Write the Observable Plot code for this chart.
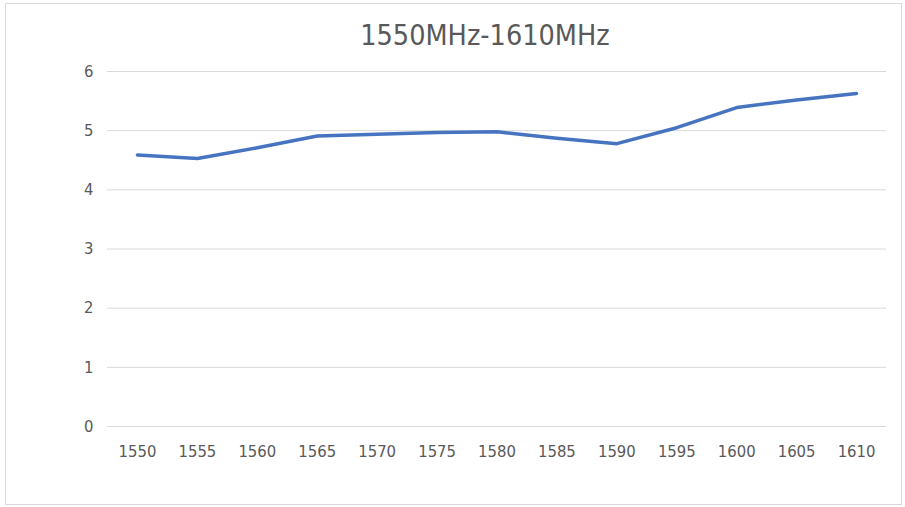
<!DOCTYPE html>
<html>
<head>
<meta charset="utf-8">
<script src="https://cdn.jsdelivr.net/npm/d3@7"></script>
<script src="https://cdn.jsdelivr.net/npm/@observablehq/plot@0.6"></script>
<style>
  html, body { margin: 0; padding: 0; background: #fff; }
  #frame { position: absolute; left: 5px; top: 3px; width: 897px; height: 502px; border: 1px solid #d9d9d9; box-sizing: border-box; }
  #wrap { position: absolute; left: 0; top: 0; width: 905px; }
  #title { height: 60px; line-height: 72px; text-align: center; padding-left: 65px; box-sizing: border-box;
           font-family: "DejaVu Sans Condensed", sans-serif; font-size: 28.5px; color: #595959; }
  svg { display: block; }
</style>
</head>
<body>
<div id="frame"></div>
<div id="wrap"><div id="title">1550MHz-1610MHz</div><div id="chart"></div></div>
<script>
const frequencies = ["1550","1555","1560","1565","1570","1575","1580","1585","1590","1595","1600","1605","1610"];
const values = [4.59, 4.53, 4.71, 4.91, 4.94, 4.97, 4.98, 4.87, 4.78, 5.05, 5.39, 5.52, 5.63];
const yTicks = [0, 1, 2, 3, 4, 5, 6];

const data = frequencies.map((f, i) => ({freq: f, value: values[i]}));

const plot = Plot.plot({
  width: 905,
  height: 447,
  marginLeft: 107,
  marginRight: 19,
  marginTop: 11,
  marginBottom: 81,
  style: {fontFamily: "'DejaVu Sans Condensed', sans-serif", fontSize: "16.5px", color: "#595959", background: "transparent"},
  x: {type: "point", domain: frequencies, padding: 0.5, round: false, label: null},
  y: {domain: [0, 6], ticks: yTicks, label: null},
  marks: [
    Plot.gridY(yTicks, {stroke: "#d9d9d9", strokeOpacity: 1, strokeWidth: 1}),
    Plot.axisY(yTicks, {tickSize: 0, tickPadding: 14, label: null, fill: "#595959", tickFormat: d3.format("d")}),
    Plot.axisX({tickSize: 0, tickPadding: 19, label: null, fill: "#595959"}),
    Plot.line(data, {x: "freq", y: "value", stroke: "#4674c0", strokeWidth: 3.5, strokeLinejoin: "round", strokeLinecap: "round"})
  ]
});
document.getElementById("chart").appendChild(plot);
</script>
</body>
</html>
